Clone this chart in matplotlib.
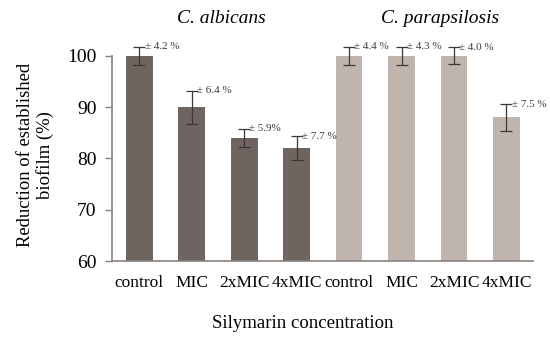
import numpy as np
import matplotlib
matplotlib.use('Agg')
import matplotlib.pyplot as plt

plt.rcParams['font.family'] = ['Liberation Serif', 'DejaVu Serif']

# data
categories = ['control', 'MIC', '2xMIC', '4xMIC', 'control', 'MIC', '2xMIC', '4xMIC']
albicans = [100, 90, 84, 82]
parapsilosis = [100, 100, 100, 88]
albicans_err = [1.8, 3.2, 1.8, 2.3]
parapsilosis_err = [1.8, 1.8, 1.7, 2.6]
err_labels = ['± 4.2 %', '± 6.4 %', '± 5.9%', '± 7.7 %',
              '± 4.4 %', '± 4.3 %', '± 4.0 %', '± 7.5 %']
groups = ['C. albicans', 'C. parapsilosis']

dark = '#6f6560'
light = '#c0b5ae'
spine_col = '#8a807b'

values = albicans + parapsilosis
errs = albicans_err + parapsilosis_err
colors = [dark] * len(albicans) + [light] * len(parapsilosis)
x = np.arange(len(values))

fig = plt.figure(figsize=(5.5, 3.4), dpi=100)
ax = fig.add_axes([0.2036, 0.232, 0.765, 0.604])

ax.bar(x, values, width=0.51, color=colors, zorder=2)
ax.errorbar(x, values, yerr=errs, fmt='none', ecolor='#3f3735',
            elinewidth=0.9, capsize=4, capthick=0.9, clip_on=False, zorder=3)
for xi, v, e, lab in zip(x, values, errs, err_labels):
    ax.text(xi + 0.1, v + e, lab, fontsize=8, color='#3f3735',
            ha='left', va='center', clip_on=False)

ax.set_ylim(60, 100)
ax.set_xlim(-0.52, 7.5)
ax.set_yticks([60, 70, 80, 90, 100])
ax.set_xticks(x)
ax.set_xticklabels(categories)
ax.tick_params(axis='y', labelsize=14, length=5, color=spine_col, width=1, pad=6)
ax.tick_params(axis='x', labelsize=12.5, length=0, pad=10)
for s in ['top', 'right']:
    ax.spines[s].set_visible(False)
for s in ['left', 'bottom']:
    ax.spines[s].set_color(spine_col)
    ax.spines[s].set_linewidth(1.2)

fig.text(0.065, 0.545, 'Reduction of established\nbiofilm (%)', fontsize=13.4,
         rotation=90, ha='center', va='center', linespacing=1.15)
fig.text(0.551, 0.05, 'Silymarin concentration', fontsize=13.5,
         ha='center', va='center')

fig.text(221 / 550, 0.947, groups[0], fontsize=14, style='italic',
         ha='center', va='center')
fig.text(440 / 550, 0.947, groups[1], fontsize=14, style='italic',
         ha='center', va='center')

fig.savefig('out.png', dpi=100)
